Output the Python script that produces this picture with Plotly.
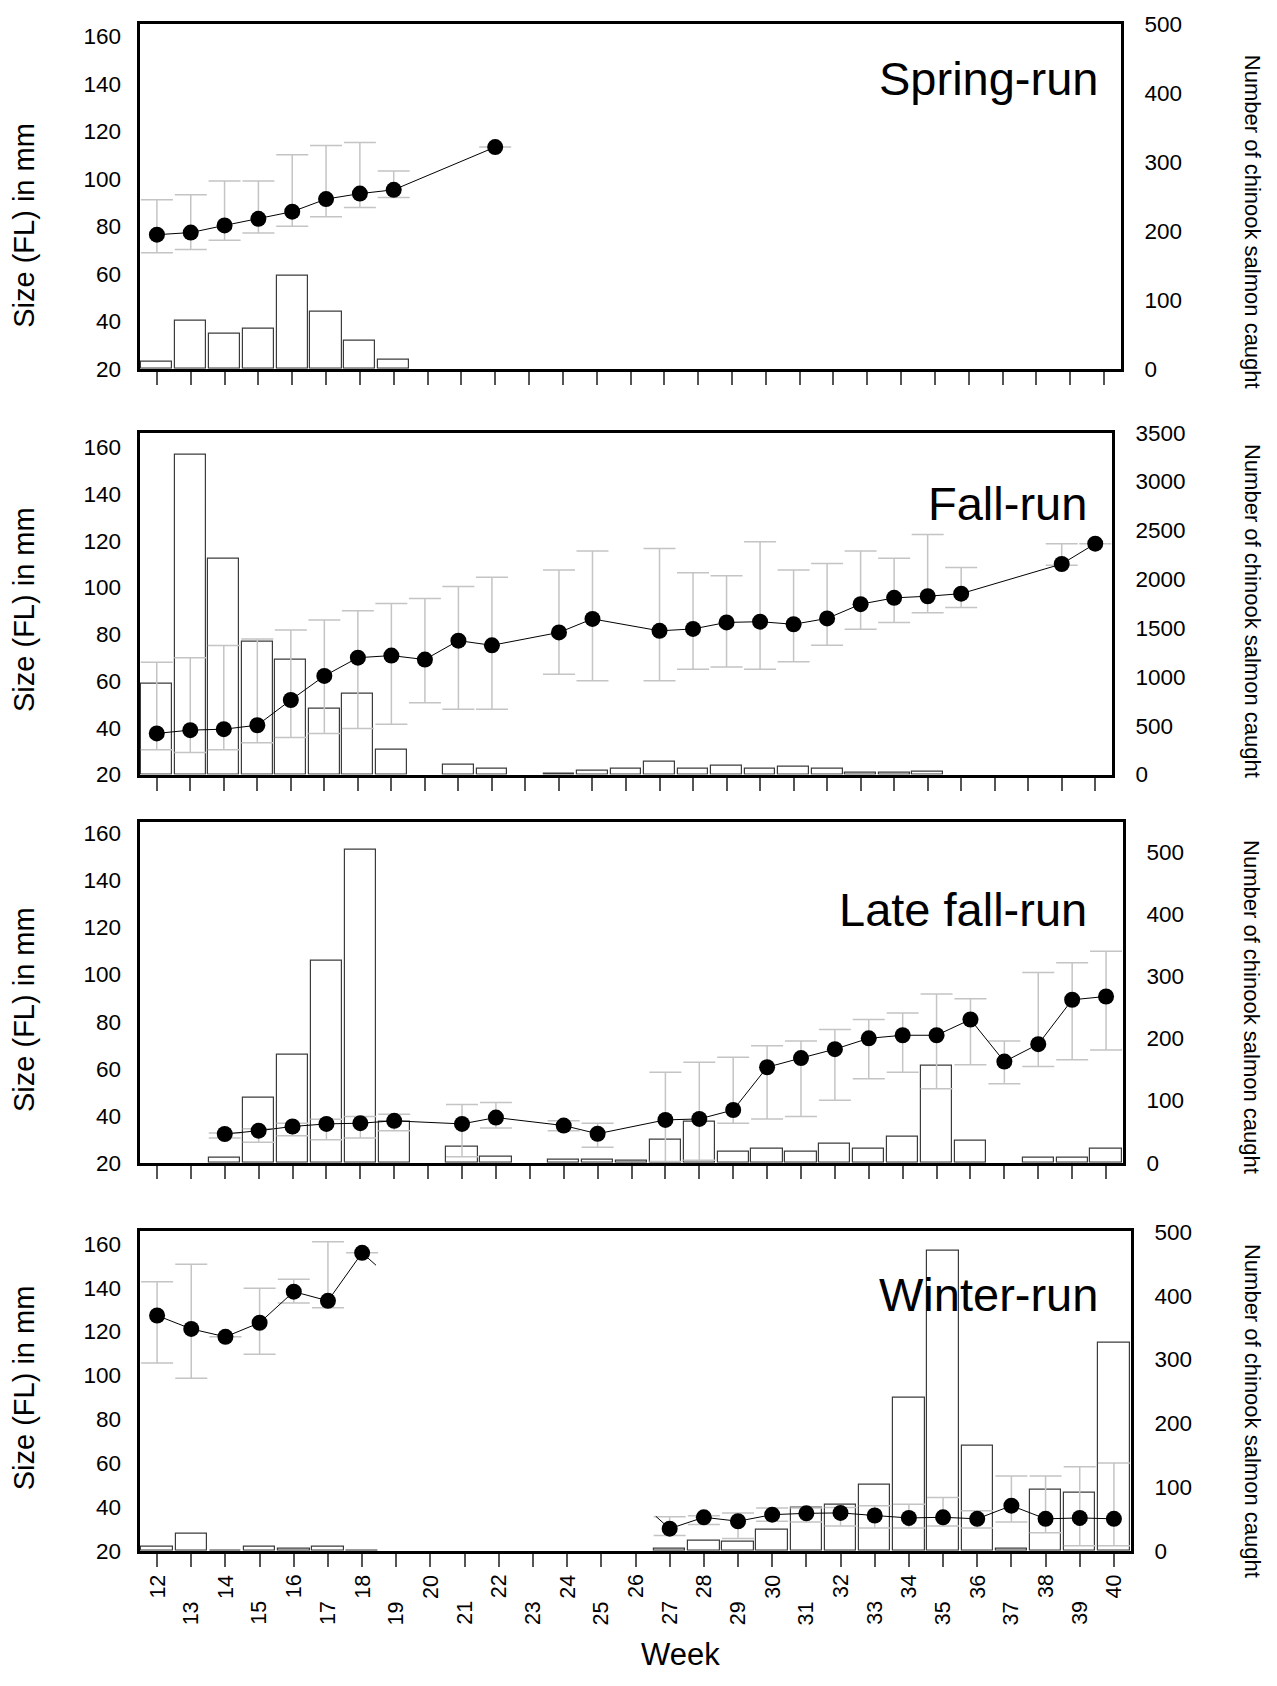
import plotly.graph_objects as go

W, H = 1277, 1686
FONT = "Liberation Sans, Arial, sans-serif"

# ---------------- data ----------------
weeks = list(range(12, 41))

# Spring-run: mean fork length (mm) with upper / lower bars, and catch counts
spring_weeks = [12, 13, 14, 15, 16, 17, 18, 19, 22]
spring_mean = [76.4, 77.3, 80.3, 83.1, 86.1, 91.4, 93.7, 95.3, 113.3]
spring_hi = [91.1, 93.2, 99.0, 99.0, 110.1, 114.0, 115.2, 103.2, 113.3]
spring_lo = [68.8, 70.2, 74.1, 77.1, 80.0, 84.0, 87.9, 92.1, 113.3]
spring_cwk = [12, 13, 14, 15, 16, 17, 18, 19]
spring_cnt = [10, 70, 50, 58, 135, 83, 41, 13]

# Fall-run
fall_weeks = [12, 13, 14, 15, 16, 17, 18, 19, 20, 21, 22, 24, 25,
              27, 28, 29, 30, 31, 32, 33, 34, 35, 36, 39, 40]
fall_mean = [37.6, 39.0, 39.4, 41.1, 51.9, 62.2, 70.0, 70.9, 69.2, 77.3, 75.3, 80.8, 86.6,
             81.5, 82.3, 85.1, 85.4, 84.3, 86.8, 92.9, 95.6, 96.3, 97.4, 110.1, 118.8]
fall_hi = [68.1, 70.0, 75.2, 78.0, 81.9, 86.1, 90.1, 93.2, 95.3, 100.5, 104.4, 107.5, 115.7,
           116.7, 106.4, 105.1, 119.6, 107.5, 110.3, 115.7, 112.6, 122.7, 108.6, 118.8, 118.8]
fall_lo = [30.6, 29.4, 30.6, 33.6, 35.8, 37.6, 39.7, 41.5, 50.7, 47.9, 47.9, 62.9, 60.1,
           60.1, 65.0, 66.0, 65.0, 68.3, 75.3, 82.2, 85.1, 89.2, 91.5, 109.6, 118.8]
fall_cwk = [12, 13, 14, 15, 16, 17, 18, 19, 21, 22, 24, 25, 26,
            27, 28, 29, 30, 31, 32, 33, 34, 35]
fall_cnt = [932, 3274, 2207, 1356, 1181, 673, 824, 252, 98, 57, 13, 44, 64,
            135, 64, 94, 57, 84, 64, 24, 24, 34]

# Late fall-run
late_weeks = [14, 15, 16, 17, 18, 19, 21, 22, 24, 25,
              27, 28, 29, 30, 31, 32, 33, 34, 35, 36, 37, 38, 39, 40]
late_mean = [32.2, 33.6, 35.4, 36.5, 36.8, 37.8, 36.5, 39.2, 35.8, 32.3,
             38.2, 38.6, 42.4, 60.6, 64.5, 68.3, 72.9, 74.2, 74.2, 80.9, 63.0, 70.4, 89.3, 90.7]
late_hi = [32.6, 34.4, 36.8, 38.5, 39.6, 40.6, 44.8, 45.6, 37.8, 36.8,
           58.5, 62.7, 64.8, 69.7, 71.8, 76.7, 80.9, 83.7, 91.8, 89.7, 71.8, 100.9, 105.0, 109.9]
late_lo = [30.5, 28.7, 31.5, 29.8, 30.5, 33.6, 22.5, 34.7, 33.6, 26.6,
           20.5, 21.0, 36.8, 38.6, 39.6, 46.6, 55.7, 58.5, 51.5, 61.7, 53.6, 60.9, 63.8, 67.9]
late_cwk = [14, 15, 16, 17, 18, 19, 21, 22, 24, 25, 26,
            27, 28, 29, 30, 31, 32, 33, 34, 35, 36, 38, 39, 40]
late_cnt = [8, 105, 173, 325, 503, 66, 26, 9, 4, 4, 3,
            37, 65, 18, 23, 18, 31, 22, 42, 155, 35, 8, 8, 22]

# Winter-run (two separate groups of weeks)
winter_weeks_a = [12, 13, 14, 15, 16, 17, 18]
winter_mean_a = [127.3, 121.2, 117.6, 124.0, 138.2, 134.0, 155.9]
winter_hi_a = [142.7, 150.7, 117.6, 139.7, 143.9, 160.9, 155.9]
winter_lo_a = [105.6, 98.7, 117.6, 109.7, 133.0, 130.9, 155.9]
winter_weeks_b = [27, 28, 29, 30, 31, 32, 33, 34, 35, 36, 37, 38, 39, 40]
winter_mean_b = [30.1, 35.3, 33.5, 36.5, 37.1, 37.3, 36.1, 35.0, 35.3, 34.6, 40.6, 34.6, 35.0, 34.6]
winter_hi_b = [35.5, 36.0, 37.3, 39.5, 39.5, 39.8, 40.6, 41.3, 44.3, 38.3, 54.1, 54.1, 58.3, 60.1]
winter_lo_b = [27.0, 32.0, 25.6, 33.5, 33.1, 31.3, 30.4, 30.4, 31.3, 30.4, 33.1, 28.3, 22.3, 22.3]
winter_cwk = [12, 13, 14, 15, 16, 17, 18,
              27, 28, 29, 30, 31, 32, 33, 34, 35, 36, 37, 38, 39, 40]
winter_cnt = [6, 27, 1, 6, 3, 6, 1,
              3, 16, 15, 33, 67, 73, 103, 240, 470, 165, 4, 96, 92, 327]

run_names = ["Spring-run", "Fall-run", "Late fall-run", "Winter-run"]
count_ranges = [[0, 500], [0, 3500], [0, 548], [0, 502]]
count_dticks = [100, 500, 100, 100]
size_tops = [165.2, 166.3, 165.0, 166.0]

# ---------------- geometry (pixels) ----------------
panels = [  # left, right, top, bottom
    (140, 1121, 12, 362),
    (140, 1112, 427, 774),
    (140, 1123, 822, 1168),
    (140, 1131, 1237, 1562),
]
label_pos = [  # panel label: right x, middle y
    (1100, 67), (1089, 499), (1089, 911), (1100, 1302)
]
ytitle_left = [217, 607, 1013, 1397]
ytitle_right = [213, 608, 1010, 1420]


def px_x(v):
    return v / W


def px_y(v):
    return 1 - v / H


fig = go.Figure()

ERR_COLOR = "#c4c4c4"
BAR_LINE = "#3c3c3c"


def add_panel(i, cwk, cnt, groups):
    xs = "x" if i == 0 else f"x{i + 1}"
    yc = f"y{2 * i + 1}" if i > 0 else "y"
    ys = f"y{2 * i + 2}"
    fig.add_trace(go.Bar(
        x=cwk, y=cnt, xaxis=xs, yaxis=yc, width=0.92,
        marker=dict(color="white", line=dict(color=BAR_LINE, width=1.2)),
        showlegend=False, hoverinfo="x+y"))
    for wk, mean, hi, lo in groups:
        fig.add_trace(go.Scatter(
            x=wk, y=mean, xaxis=xs, yaxis=ys, mode="lines+markers",
            line=dict(color="black", width=1),
            marker=dict(color="black", size=16),
            error_y=dict(type="data", symmetric=False,
                         array=[h - m for h, m in zip(hi, mean)],
                         arrayminus=[m - l for m, l in zip(mean, lo)],
                         color=ERR_COLOR, thickness=1.5, width=16),
            showlegend=False))


add_panel(0, spring_cwk, spring_cnt, [(spring_weeks, spring_mean, spring_hi, spring_lo)])
add_panel(1, fall_cwk, fall_cnt, [(fall_weeks, fall_mean, fall_hi, fall_lo)])
add_panel(2, late_cwk, late_cnt, [(late_weeks, late_mean, late_hi, late_lo)])
add_panel(3, winter_cwk, winter_cnt,
          [(winter_weeks_a, winter_mean_a, winter_hi_a, winter_lo_a),
           (winter_weeks_b, winter_mean_b, winter_hi_b, winter_lo_b)])

# short connector stubs leaving the last early point and entering the first late point
x0, y0 = winter_weeks_a[-1], winter_mean_a[-1]
x1, y1 = winter_weeks_b[0], winter_mean_b[0]
for t0, t1 in [(0.0, 0.045), (0.955, 1.0)]:
    fig.add_trace(go.Scatter(
        x=[x0 + t0 * (x1 - x0), x0 + t1 * (x1 - x0)],
        y=[y0 + t0 * (y1 - y0), y0 + t1 * (y1 - y0)],
        xaxis="x4", yaxis="y8", mode="lines",
        line=dict(color="black", width=1), showlegend=False, hoverinfo="skip"))

layout = dict(
    width=W, height=H, margin=dict(l=0, r=0, t=0, b=0),
    paper_bgcolor="white", plot_bgcolor="white",
    font=dict(family=FONT, color="black", size=22),
    bargap=0, showlegend=False,
)

annotations = []
for i, (l, r, t, b) in enumerate(panels):
    xn = "xaxis" if i == 0 else f"xaxis{i + 1}"
    xref = "x" if i == 0 else f"x{i + 1}"
    ycn = "yaxis" if i == 0 else f"yaxis{2 * i + 1}"
    ycref = "y" if i == 0 else f"y{2 * i + 1}"
    ysn = f"yaxis{2 * i + 2}"
    layout[xn] = dict(
        domain=[px_x(l), px_x(r)], range=[11.5, 40.5], anchor=ycref,
        tickmode="array", tickvals=weeks, showticklabels=False,
        ticks="outside", ticklen=13, tickwidth=1.5, tickcolor="#555555",
        showline=True, linecolor="black", linewidth=3, mirror=True,
        showgrid=False, zeroline=False, fixedrange=True)
    layout[ycn] = dict(
        domain=[px_y(b), px_y(t)], range=count_ranges[i], anchor=xref,
        side="right", dtick=count_dticks[i], tick0=0, ticks="",
        ticklabelstandoff=16, tickfont=dict(size=22.5),
        showline=True, linecolor="black", linewidth=3, mirror=True,
        showgrid=False, zeroline=False, fixedrange=True)
    layout[ysn] = dict(
        overlaying=ycref, anchor=xref, side="left",
        range=[20, size_tops[i]], tickmode="array",
        tickvals=[20, 40, 60, 80, 100, 120, 140, 160], ticks="",
        ticklabelstandoff=18, tickfont=dict(size=22.5),
        showline=False, showgrid=False, zeroline=False, fixedrange=True)

    # run label inside the panel
    lx, ly = label_pos[i]
    annotations.append(dict(
        text=run_names[i], xref="paper", yref="paper",
        x=px_x(lx), y=px_y(ly), xanchor="right", yanchor="middle",
        showarrow=False, font=dict(size=47)))
    # axis titles
    annotations.append(dict(
        text="Size (FL) in mm", xref="paper", yref="paper",
        x=px_x(24), y=px_y(ytitle_left[i]), xanchor="center", yanchor="middle",
        textangle=-90, showarrow=False, font=dict(size=29)))
    annotations.append(dict(
        text="Number of chinook salmon caught", xref="paper", yref="paper",
        x=px_x(1252), y=px_y(ytitle_right[i]), xanchor="center", yanchor="middle",
        textangle=90, showarrow=False, font=dict(size=22)))

# staggered week labels below the bottom panel
for wk in weeks:
    top = 1584 if wk % 2 == 0 else 1611
    annotations.append(dict(
        text=str(wk), xref="x4", yref="paper", x=wk, y=px_y(top),
        xanchor="center", yanchor="top", textangle=-90,
        showarrow=False, font=dict(size=21.5)))

annotations.append(dict(
    text="Week", xref="paper", yref="paper", x=px_x(681), y=px_y(1667),
    xanchor="center", yanchor="middle", showarrow=False, font=dict(size=31)))

layout["annotations"] = annotations
fig.update_layout(**layout)

fig.write_html("out.html")
